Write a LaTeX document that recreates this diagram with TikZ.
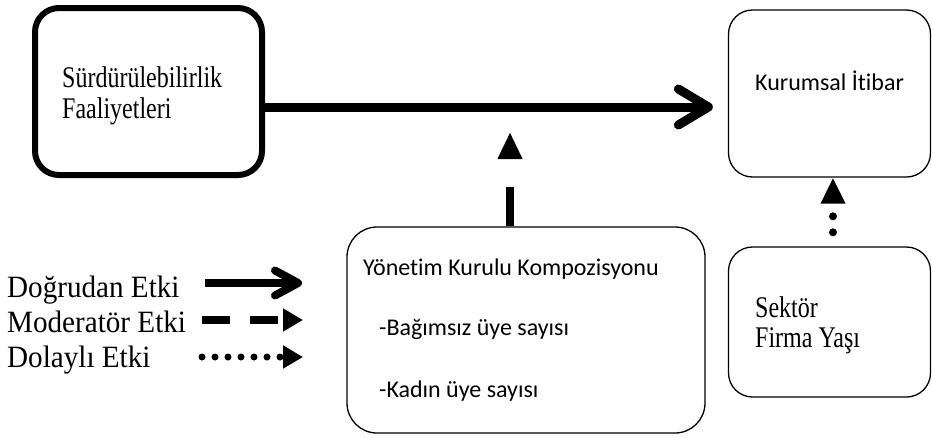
\documentclass[tikz,border=0pt]{standalone}
\usepackage{fontspec}
\setmainfont{Liberation Serif}
\newfontfamily\calfont[Ligatures={NoCommon}]{Carlito}
\newfontfamily\narrowserif[FakeStretch=0.8]{Liberation Serif}
\newfontfamily\legserif[FakeStretch=0.94]{Liberation Serif}
\usetikzlibrary{arrows.meta}
\begin{document}
\begin{tikzpicture}[x=1pt,y=-1pt,
  box/.style={draw, rounded corners=24pt, line width=1.3pt, inner sep=0pt},
  thickbox/.style={box, line width=6pt},
  sertext/.style={anchor=base west, inner sep=0pt, font=\narrowserif\fontsize{30}{36}\selectfont},
  caltext/.style={anchor=base west, inner sep=0pt, font=\calfont\fontsize{24}{30}\selectfont},
  legtext/.style={anchor=base west, inner sep=0pt, font=\legserif\fontsize{31}{36}\selectfont},
  direct/.style={line width=9pt, -{Straight Barb[length={30pt 0 0}, width={36pt 0 0}, round]}},
  legdirect/.style={line width=8pt, -{Straight Barb[length={23pt 0 0}, width={25pt 0 0}, round]}},
  moder/.style={line width=8pt, dash pattern=on 39pt off 29pt, -{Triangle[length={27pt 0 0}, width={23pt 0 0}]}},
  legmoder/.style={line width=8pt, dash pattern=on 28pt off 20pt, -{Triangle[length={20pt 0 0}, width={22pt 0 0}]}},
  indir/.style={line width=8pt, line cap=round, dash pattern=on 0pt off 16pt, dash phase=2pt, -{Triangle[length={26pt 0 0}, width={23pt 0 0}]}},
  legindir/.style={line width=7pt, line cap=round, dash pattern=on 0pt off 13pt, -{Triangle[length={20pt 0 0}, width={22pt 0 0}]}}
]
\useasboundingbox (0,0) rectangle (932,437);

% boxes
\node[thickbox, minimum width=227pt, minimum height=167pt] (sf) at (148.5,91.5) {};
\node[box, minimum width=202pt, minimum height=167pt] (ki) at (829.5,93.5) {};
\node[box, minimum width=202pt, minimum height=150pt] (sk) at (829.5,322) {};
\node[box, rounded corners=30pt, minimum width=358pt, minimum height=206pt] (yk) at (526,330) {};

% texts
\node[sertext] (t1a) at (62,87) {Sürdürülebilirlik};
\node[sertext] (t1b) at (62,118) {Faaliyetleri};
\node[caltext] (t2) at (755,90) {Kurumsal İtibar};
\node[sertext] (t3a) at (755,317) {Sektör};
\node[sertext] (t3b) at (755,347) {Firma Yaşı};
\node[caltext] (t4a) at (363,275) {Yönetim Kurulu Kompozisyonu};
\node[caltext] (t4b) at (379,335) {-Bağımsız üye sayısı};
\node[caltext] (t4c) at (379,397) {-Kadın üye sayısı};

% connectors
\draw[direct] ([yshift=-15.5pt]sf.east) -- ([xshift=-15pt,yshift=-13.5pt]ki.west);
\coordinate (mtip) at (510,132);
\draw[moder] (yk.north -| mtip) -- (mtip);
\draw[indir] ([xshift=3.5pt]sk.north) -- ([xshift=3.5pt]ki.south);

% legend
\node[legtext] (l1) at (7,297) {Doğrudan Etki};
\node[legtext] (l2) at (7,332) {Moderatör Etki};
\node[legtext] (l3) at (7,367) {Dolaylı Etki};
\coordinate (l1s) at (205,283);
\coordinate (l1e) at (302,283);
\coordinate (l2s) at (202,320);
\coordinate (l2e) at (303,320);
\coordinate (l3s) at (202,357);
\coordinate (l3e) at (303,357);
\draw[legdirect] (l1s) -- (l1e);
\draw[legmoder] (l2s) -- (l2e);
\draw[legindir] (l3s) -- (l3e);
\end{tikzpicture}
\end{document}
